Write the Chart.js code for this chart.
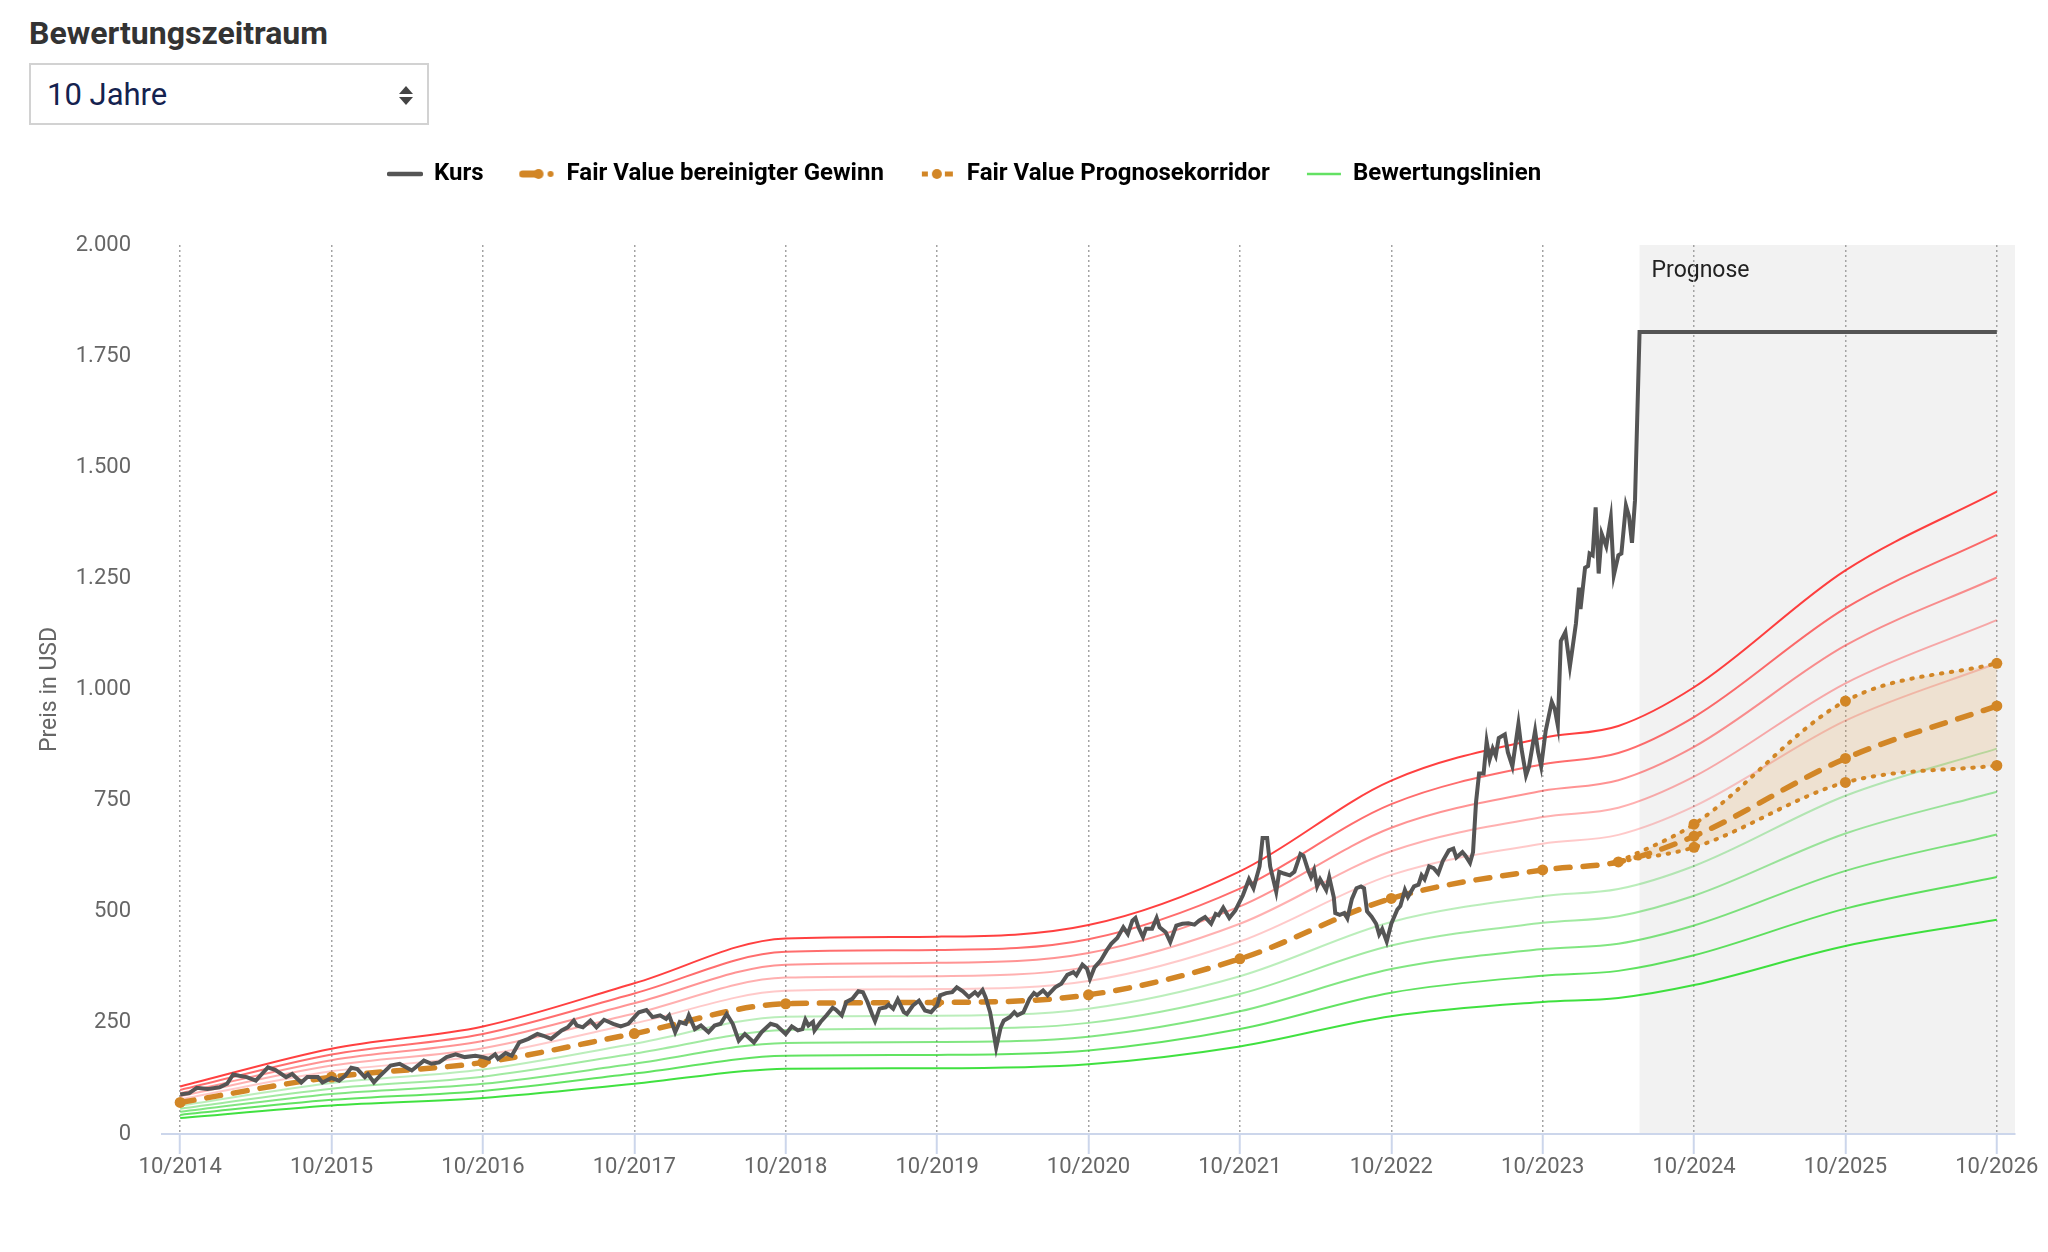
<!DOCTYPE html>
<html lang="de">
<head>
<meta charset="utf-8">
<title>Bewertungszeitraum</title>
<script src="https://cdn.jsdelivr.net/npm/chart.js@4.4.1/dist/chart.umd.min.js"></script>
<style>
  html, body { margin: 0; padding: 0; background: #fff; }
  body { width: 2048px; height: 1252px; position: relative; overflow: hidden; font-family: Roboto, sans-serif; }
  .titel { position: absolute; left: 29px; top: 17px; font-size: 32px; line-height: 32px; font-weight: bold; color: #333; }
  .auswahl { position: absolute; left: 29px; top: 63px; width: 400px; height: 62px; box-sizing: border-box; border: 2px solid #d2d2d2; background: #fff; }
  .auswahl span { position: absolute; left: 16px; top: 14px; font-size: 31px; line-height: 31px; color: #14224f; }
  .pfeil-auf, .pfeil-ab { position: absolute; left: 368px; width: 0; height: 0; border-left: 7px solid transparent; border-right: 7px solid transparent; }
  .pfeil-auf { top: 21px; border-bottom: 8px solid #444; }
  .pfeil-ab { top: 32px; border-top: 8px solid #444; }
  #diagramm { position: absolute; left: 0; top: 100px; width: 2048px; height: 1152px; }
</style>
</head>
<body>
<div class="titel">Bewertungszeitraum</div>
<div class="auswahl"><span>10 Jahre</span><i class="pfeil-auf"></i><i class="pfeil-ab"></i></div>
<div id="diagramm"><canvas id="myChart"></canvas></div>
<script>
// Zeitachse: Jahre seit 10/2014
const startJahr = 2014;
const prognoseBeginn = 9.64;
const xTickWerte = [0, 1, 2, 3, 4, 5, 6, 7, 8, 9, 10, 11, 12];
const yTickWerte = [0, 250, 500, 750, 1000, 1250, 1500, 1750, 2000];

// Kurs (USD), [Jahre seit 10/2014, Kurs]
const kursPunkte = [
  [0,89],[0.06,92],[0.11,104],[0.18,101],[0.26,105],[0.31,113],[0.35,134],[0.39,131],[0.44,128],[0.5,120],[0.55,139],[0.58,150],[0.63,144],[0.7,128],[0.74,135],[0.8,116],[0.84,128],[0.91,128],[0.94,116],[1.0,126],
  [1.05,120],[1.09,131],[1.13,149],[1.17,146],[1.22,128],[1.24,135],[1.28,116],[1.32,131],[1.39,154],[1.45,158],[1.53,143],[1.61,165],[1.66,158],[1.71,161],[1.76,173],[1.82,179],[1.88,173],[1.95,176],[2.0,173],
  [2.04,169],[2.08,179],[2.1,169],[2.15,182],[2.19,176],[2.24,206],[2.3,214],[2.36,225],[2.4,221],[2.45,214],[2.52,233],[2.56,240],[2.6,255],[2.62,244],[2.66,240],[2.71,255],[2.75,240],[2.8,257],[2.86,248],[2.91,242],[2.96,248],[2.99,259],
  [3.03,274],[3.08,279],[3.12,263],[3.17,267],[3.21,259],[3.23,267],[3.27,229],[3.3,252],[3.34,248],[3.36,267],[3.4,236],[3.44,244],[3.49,229],[3.53,244],[3.57,248],[3.61,270],[3.65,248],[3.69,210],[3.73,225],[3.79,206],[3.84,229],[3.9,248],[3.94,244],
  [4.0,225],[4.04,242],[4.08,233],[4.11,236],[4.13,257],[4.15,244],[4.18,252],[4.19,233],[4.23,252],[4.27,267],[4.31,284],[4.33,280],[4.37,267],[4.4,297],[4.44,304],[4.48,321],[4.51,319],[4.54,297],[4.57,270],[4.59,254],[4.62,282],[4.66,285],[4.68,291],[4.71,282],[4.74,303],[4.78,274],[4.8,270],[4.84,289],[4.88,300],[4.92,278],[4.96,274],
  [5.0,289],[5.02,312],[5.06,317],[5.1,319],[5.13,330],[5.17,321],[5.21,308],[5.25,319],[5.27,312],[5.3,324],[5.32,308],[5.35,274],[5.36,255],[5.38,214],[5.39,194],[5.42,240],[5.44,255],[5.48,263],[5.51,274],[5.53,267],[5.57,274],[5.61,304],[5.64,317],[5.66,312],[5.7,323],[5.73,312],[5.78,330],[5.82,338],[5.86,358],[5.9,364],[5.92,357],[5.96,381],[5.99,372],
  [6.01,349],[6.04,375],[6.08,390],[6.12,413],[6.15,428],[6.19,441],[6.23,465],[6.26,450],[6.29,480],[6.31,486],[6.33,465],[6.36,443],[6.38,462],[6.42,462],[6.45,486],[6.47,465],[6.51,454],[6.54,432],[6.58,469],[6.62,473],[6.66,474],[6.7,471],[6.73,480],[6.77,488],[6.81,473],[6.84,495],[6.86,492],[6.89,509],[6.93,486],[6.97,503],
  [7.02,537],[7.06,573],[7.09,553],[7.13,602],[7.15,666],[7.18,666],[7.2,602],[7.24,545],[7.26,590],[7.29,586],[7.33,582],[7.36,590],[7.4,630],[7.42,626],[7.45,594],[7.47,578],[7.49,594],[7.51,557],[7.53,573],[7.57,549],[7.59,578],[7.62,533],[7.63,497],[7.66,493],[7.69,497],[7.71,485],[7.74,529],[7.77,553],[7.8,557],[7.82,553],[7.84,501],[7.87,489],[7.9,473],[7.92,449],[7.94,461],[7.97,433],
  [8.0,473],[8.04,505],[8.06,513],[8.09,549],[8.11,533],[8.15,557],[8.18,561],[8.2,582],[8.22,573],[8.25,602],[8.28,598],[8.31,586],[8.34,614],[8.38,638],[8.41,642],[8.43,622],[8.47,634],[8.49,626],[8.52,610],[8.54,634],[8.56,747],[8.58,811],[8.61,811],[8.63,883],[8.65,843],[8.67,867],[8.69,851],[8.71,891],[8.75,899],[8.77,859],[8.8,827],[8.84,923],[8.86,867],[8.89,807],[8.91,827],[8.95,907],[8.97,859],[8.99,827],
  [9.02,907],[9.06,972],[9.08,956],[9.1,919],[9.12,1109],[9.15,1129],[9.18,1052],[9.2,1100],[9.22,1149],[9.24,1229],[9.25,1181],[9.28,1274],[9.3,1278],[9.31,1306],[9.33,1302],[9.35,1410],[9.37,1261],[9.39,1350],[9.42,1322],[9.45,1386],[9.47,1257],[9.5,1302],[9.52,1306],[9.55,1414],[9.57,1390],[9.59,1330],[9.61,1426],[9.64,1804],[12,1804]
];

// Fair Value bereinigter Gewinn
const fvZeit = [0, 1, 2, 3, 4, 5, 6, 7, 8, 9, 9.5, 10, 11, 12];
const fvWert = [71, 128, 161, 226, 293, 296, 313, 394, 530, 594, 612, 670, 845, 963];

// Fair Value Prognosekorridor
const korridorZeit = [9.5, 10, 11, 12];
const korridorOben = [612, 697, 974, 1059];
const korridorUnten = [612, 645, 791, 829];

// Bewertungslinien (gleiche Zeitpunkte wie fvZeit)
const linie150 = [107, 192, 242, 339, 440, 444, 470, 591, 795, 891, 918, 1005, 1268, 1445];
const linie140 = [99, 179, 225, 316, 410, 414, 438, 552, 742, 832, 857, 938, 1183, 1348];
const linie130 = [92, 166, 209, 294, 381, 385, 407, 512, 689, 772, 796, 871, 1099, 1252];
const linie120 = [85, 154, 193, 271, 352, 355, 376, 473, 636, 713, 734, 804, 1014, 1156];
const linie110 = [78, 141, 177, 249, 322, 326, 344, 433, 583, 653, 673, 737, 930, 1059];
const linie90 = [64, 115, 145, 203, 264, 266, 282, 355, 477, 535, 551, 603, 761, 867];
const linie80 = [57, 102, 129, 181, 234, 237, 250, 315, 424, 475, 490, 536, 676, 770];
const linie70 = [50, 90, 113, 158, 205, 207, 219, 276, 371, 416, 428, 469, 592, 674];
const linie60 = [43, 77, 97, 136, 176, 178, 188, 236, 318, 356, 367, 402, 507, 578];
const linie50 = [36, 64, 81, 113, 147, 148, 157, 197, 265, 297, 306, 335, 423, 482];

const orange = '#d28626';
const kursFarbe = '#555555';

function punkte(zeit, werte) {
  return zeit.map((t, i) => ({ x: t, y: werte[i] }));
}

function tausender(v) {
  if (v < 1000) return String(v);
  return Math.floor(v / 1000) + '.' + String(v % 1000).padStart(3, '0');
}

// kleine Legenden-Symbole
function symbol(breite, hoehe, malen) {
  const c = document.createElement('canvas');
  c.width = breite; c.height = hoehe;
  malen(c.getContext('2d'), hoehe / 2);
  return c;
}
const symKurs = symbol(36, 10, (g, m) => {
  g.strokeStyle = kursFarbe; g.lineWidth = 4.5; g.lineCap = 'round';
  g.beginPath(); g.moveTo(2, m); g.lineTo(34, m); g.stroke();
});
const symFv = symbol(38, 14, (g, m) => {
  g.strokeStyle = orange; g.fillStyle = orange; g.lineWidth = 7; g.lineCap = 'round';
  g.beginPath(); g.moveTo(4, m); g.lineTo(18, m); g.stroke();
  g.beginPath(); g.arc(20, m, 5, 0, Math.PI * 2); g.fill();
  g.beginPath(); g.arc(32, m, 3, 0, Math.PI * 2); g.fill();
});
const symKorridor = symbol(34, 12, (g, m) => {
  g.fillStyle = orange;
  g.fillRect(1, m - 2.5, 6, 5);
  g.beginPath(); g.arc(16, m, 5, 0, Math.PI * 2); g.fill();
  g.fillRect(24, m - 2.5, 8, 5);
});
const symLinien = symbol(36, 8, (g, m) => {
  g.strokeStyle = '#63e163'; g.lineWidth = 2.5;
  g.beginPath(); g.moveTo(1, m); g.lineTo(35, m); g.stroke();
});

const legendeEintraege = [
  { text: 'Kurs', pointStyle: symKurs },
  { text: 'Fair Value bereinigter Gewinn', pointStyle: symFv },
  { text: 'Fair Value Prognosekorridor', pointStyle: symKorridor },
  { text: 'Bewertungslinien', pointStyle: symLinien }
];

function bewertung(werte, farbe) {
  return {
    label: 'Bewertungslinien',
    data: punkte(fvZeit, werte),
    borderColor: farbe,
    borderWidth: 2,
    pointRadius: 0,
    cubicInterpolationMode: 'monotone',
    fill: false
  };
}

const prognosePlugin = {
  id: 'prognose',
  beforeDraw(chart) {
    const { ctx, chartArea, scales } = chart;
    const x0 = scales.x.getPixelForValue(prognoseBeginn);
    ctx.save();
    ctx.fillStyle = '#f2f2f2';
    ctx.fillRect(x0, chartArea.top, chartArea.right - x0, chartArea.bottom - chartArea.top);
    ctx.fillStyle = '#222';
    ctx.font = '23px Roboto';
    ctx.textBaseline = 'middle';
    ctx.fillText('Prognose', x0 + 12, chartArea.top + 26);
    ctx.restore();
  }
};

// Legende etwas nach links wie im Original
const legendePlugin = {
  id: 'legendeVersatz',
  afterLayout(chart) {
    const lg = chart.legend;
    if (!lg || !lg.lineWidths) return;
    const pad = lg.options.labels.padding;
    const start = (lg.left + pad + lg.right - lg.lineWidths[0]) / 2;
    const versatz = 388 - start;
    lg.left += versatz;
    lg.right += versatz;
  }
};

const ctx = document.getElementById('myChart').getContext('2d');
const myChart = new Chart(ctx, {
  type: 'line',
  data: {
    datasets: [
      {
        label: 'Kurs',
        data: kursPunkte.map(p => ({ x: p[0], y: p[1] })),
        borderColor: kursFarbe,
        borderWidth: 4,
        pointRadius: 0,
        tension: 0,
        fill: false
      },
      {
        label: 'Fair Value bereinigter Gewinn',
        data: punkte(fvZeit, fvWert),
        borderColor: orange,
        backgroundColor: orange,
        borderWidth: 5.5,
        borderDash: [14, 13],
        borderCapStyle: 'round',
        pointRadius: 5.5,
        pointBorderWidth: 0,
        pointBackgroundColor: orange,
        cubicInterpolationMode: 'monotone',
        fill: false
      },
      {
        label: 'Fair Value Prognosekorridor',
        data: punkte(korridorZeit, korridorOben),
        borderColor: orange,
        backgroundColor: 'rgba(220,140,50,0.17)',
        borderWidth: 4,
        borderDash: [1.5, 8.5],
        borderCapStyle: 'round',
        pointRadius: [0, 5.5, 5.5, 5.5],
        pointBorderWidth: 0,
        pointBackgroundColor: orange,
        cubicInterpolationMode: 'monotone',
        fill: '+1'
      },
      {
        label: 'Fair Value Prognosekorridor unten',
        data: punkte(korridorZeit, korridorUnten),
        borderColor: orange,
        borderWidth: 4,
        borderDash: [1.5, 8.5],
        borderCapStyle: 'round',
        pointRadius: [0, 5.5, 5.5, 5.5],
        pointBorderWidth: 0,
        pointBackgroundColor: orange,
        cubicInterpolationMode: 'monotone',
        fill: false
      },
      bewertung(linie150, 'rgba(255,30,30,0.85)'),
      bewertung(linie140, 'rgba(255,30,30,0.65)'),
      bewertung(linie130, 'rgba(255,30,30,0.48)'),
      bewertung(linie120, 'rgba(255,30,30,0.35)'),
      bewertung(linie110, 'rgba(255,30,30,0.24)'),
      bewertung(linie90, 'rgba(30,200,30,0.3)'),
      bewertung(linie80, 'rgba(30,205,30,0.42)'),
      bewertung(linie70, 'rgba(30,210,30,0.56)'),
      bewertung(linie60, 'rgba(30,215,30,0.7)'),
      bewertung(linie50, 'rgba(30,220,30,0.85)')
    ]
  },
  options: {
    responsive: true,
    maintainAspectRatio: false,
    animation: false,
    devicePixelRatio: 1,
    layout: { padding: { left: 0, right: 33, top: 25, bottom: 68 } },
    plugins: {
      legend: {
        position: 'top',
        onClick: null,
        labels: {
          usePointStyle: true,
          pointStyleWidth: 34,
          padding: 37,
          color: '#333',
          font: { family: 'Roboto', size: 24, weight: 'bold' },
          generateLabels: () => legendeEintraege.map((e, i) => ({
            text: e.text,
            pointStyle: e.pointStyle,
            fillStyle: 'transparent',
            strokeStyle: 'transparent',
            lineWidth: 0,
            hidden: false,
            datasetIndex: i
          }))
        }
      },
      tooltip: { enabled: false }
    },
    scales: {
      x: {
        type: 'linear',
        position: 'bottom',
        min: -0.12,
        max: 12.12,
        afterBuildTicks: s => { s.ticks = xTickWerte.map(v => ({ value: v })); },
        afterFit: s => { s.height = 50; },
        ticks: {
          autoSkip: false,
          maxRotation: 0,
          padding: 0,
          color: '#666',
          font: { family: 'Roboto', size: 22 },
          callback: v => '10/' + (startJahr + v)
        },
        grid: {
          color: '#a3a3a3',
          lineWidth: 1.5,
          drawTicks: true,
          tickLength: 20,
          tickColor: '#ccd6eb',
          tickWidth: 2
        },
        border: { display: true, color: '#ccd6eb', width: 2, dash: [2, 3] }
      },
      abstand: {
        type: 'linear',
        position: 'top',
        display: true,
        ticks: { display: false },
        grid: { display: false, drawTicks: false },
        border: { display: false },
        afterFit: s => { s.height = 49; }
      },
      y: {
        min: 0,
        max: 2000,
        afterBuildTicks: s => { s.ticks = yTickWerte.map(v => ({ value: v })); },
        afterFit: s => { s.width = 162; },
        ticks: {
          padding: 31,
          color: '#666',
          font: { family: 'Roboto', size: 22 },
          callback: v => tausender(v)
        },
        grid: { display: false, drawTicks: false },
        border: { display: false },
        title: {
          display: true,
          text: 'Preis in USD',
          color: '#666',
          font: { family: 'Roboto', size: 23 },
          padding: { top: 36, bottom: 0 }
        }
      }
    }
  },
  plugins: [prognosePlugin, legendePlugin]
});
</script>
</body>
</html>
